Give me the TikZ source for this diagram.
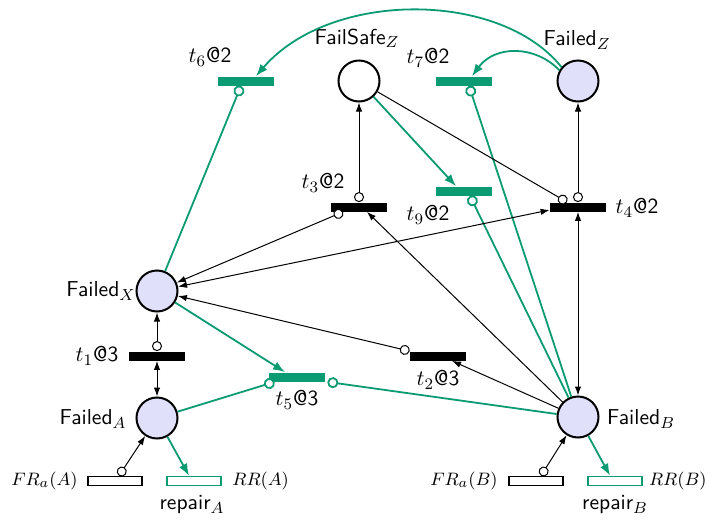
\documentclass[tikz,border=0pt]{standalone}
\usepackage{tikz}
\usetikzlibrary{arrows.meta}
\definecolor{netgreen}{HTML}{0A9B73}
\definecolor{placefill}{HTML}{E0E0FA}

\tikzset{
  place/.style={circle, draw, line width=1pt, fill=placefill, minimum size=20.5pt, inner sep=0pt},
  trans/.style={rectangle, fill=black, minimum width=28pt, minimum height=4.5pt, inner sep=0pt},
  gtrans/.style={trans, fill=netgreen},
  rate/.style={rectangle, draw, fill=white, line width=0.8pt, minimum width=27pt, minimum height=4.5pt, inner sep=0pt},
  lbl/.style={inner sep=0pt},
  ratelbl/.style={lbl, font=\fontsize{9.4}{11}\selectfont},
  flowarc/.style={line width=0.5pt, -{Latex[length=4.5pt,width=3.2pt]}},
  biarc/.style={line width=0.5pt, {Latex[length=4.5pt,width=3.2pt]}-{Latex[length=4.5pt,width=3.2pt]}},
  outarc/.style={line width=0.5pt, {Circle[length=5pt,fill=white]}-{Latex[length=4.5pt,width=3.2pt]}},
  testarc/.style={line width=0.5pt, -{Circle[length=5pt,fill=white]}},
  gflowarc/.style={draw=netgreen, line width=0.9pt, -{Latex[length=6pt,width=4.5pt]}},
  gtestarc/.style={draw=netgreen, line width=0.9pt, -{Circle[length=5.5pt,fill=white]}}
}

\begin{document}
\begin{tikzpicture}[x=0.5pt, y=-0.5pt, font=\sffamily\fontsize{10.8}{13}\selectfont]
\useasboundingbox (0,0) rectangle (708,520);

% places
\node[place] (FX) at (157,291) {};
\node[place] (FA) at (157,418) {};
\node[place] (FB) at (578,417) {};
\node[place] (FZ) at (578,81) {};
\node[place, fill=white] (FS) at (359,81) {};

% timed transitions
\node[gtrans] (t6) at (246,81) {};
\node[gtrans] (t7) at (464,81) {};
\node[trans] (t3) at (359,207) {};
\node[gtrans] (t9) at (464,191) {};
\node[trans] (t4) at (578,207) {};
\node[trans] (t1) at (157,356) {};
\node[trans] (t2) at (438,356) {};
\node[gtrans] (t5) at (297,377) {};

% failure and repair rates
\node[rate] (frA) at (115,481) {};
\node[rate, draw=netgreen] (rA) at (194,481) {};
\node[rate] (frB) at (536,481) {};
\node[rate, draw=netgreen] (rB) at (615,481) {};

% labels
\node[lbl] (FXl) at (101,291) {Failed$_X$};
\node[lbl] (FAl) at (93,419) {Failed$_A$};
\node[lbl] (FBl) at (641,419) {Failed$_B$};
\node[lbl] (FZl) at (577,40) {Failed$_Z$};
\node[lbl] (FSl) at (357,38) {FailSafe$_Z$};
\node[lbl] (t6l) at (210,57) {$t_6$@2};
\node[lbl] (t7l) at (428,58) {$t_7$@2};
\node[lbl] (t3l) at (323,183) {$t_3$@2};
\node[lbl] (t9l) at (428,215) {$t_9$@2};
\node[lbl] (t4l) at (637,208) {$t_4$@2};
\node[lbl] (t1l) at (97,356) {$t_1$@3};
\node[lbl] (t2l) at (438,380) {$t_2$@3};
\node[lbl] (t5l) at (297,400) {$t_5$@3};
\node[ratelbl, anchor=east] (frAl) at (78,481) {$FR_a(A)$};
\node[ratelbl, anchor=west] (rAl) at (232,481) {$RR(A)$};
\node[lbl] (rAn) at (192,505) {repair$_A$};
\node[ratelbl, anchor=east] (frBl) at (498,481) {$FR_a(B)$};
\node[ratelbl, anchor=east] (rBl) at (707,481) {$RR(B)$};
\node[lbl] (rBn) at (615,505) {repair$_B$};

% green arcs
\draw[gflowarc] (FZ.140) .. controls (500,-10) and (330,-10) .. ([xshift=5pt]t6.north);
\draw[gflowarc] (FZ.150) .. controls (535,45) and (495,45) .. ([xshift=4pt]t7.north);
\draw[gtestarc] (FX) -- ([xshift=-2.5pt]t6.south);
\draw[gflowarc] (FS) -- ([xshift=-4pt]t9.north);
\draw[gtestarc] (FB) -- ([xshift=3pt]t9.south);
\draw[gtestarc] (FB) -- ([xshift=2.5pt]t7.south);
\draw[gflowarc] (FX) -- ([xshift=-6pt]t5.north);
\draw[gtestarc] (FA) -- ([xshift=3pt]t5.south west);
\draw[gtestarc] (FB) -- ([xshift=1pt]t5.south east);
\draw[gflowarc] (FA) -- ([xshift=-2.5pt]rA.north);
\draw[gflowarc] (FB) -- ([xshift=-2.5pt]rB.north);

% black arcs
\draw[outarc] (t3.north) -- (FS);
\draw[outarc] ([xshift=-8pt]t3.south) -- (FX);
\draw[flowarc] (FB) -- ([xshift=4pt]t3.south);
\draw[testarc] (FS) -- ([xshift=-5.5pt]t4.north);
\draw[outarc] (t4.north) -- (FZ);
\draw[biarc] (FX) -- ([yshift=-1.5pt]t4.west);
\draw[biarc] (t4.south) -- (FB);
\draw[outarc] (t2.north west) -- (FX);
\draw[flowarc] (FB) -- ([xshift=7pt]t2.south);
\draw[outarc] (t1.north) -- (FX);
\draw[biarc] (FA) -- (t1.south);
\draw[outarc] ([xshift=2pt]frA.north) -- (FA);
\draw[outarc] ([xshift=2.5pt]frB.north) -- (FB);
\end{tikzpicture}
\end{document}
